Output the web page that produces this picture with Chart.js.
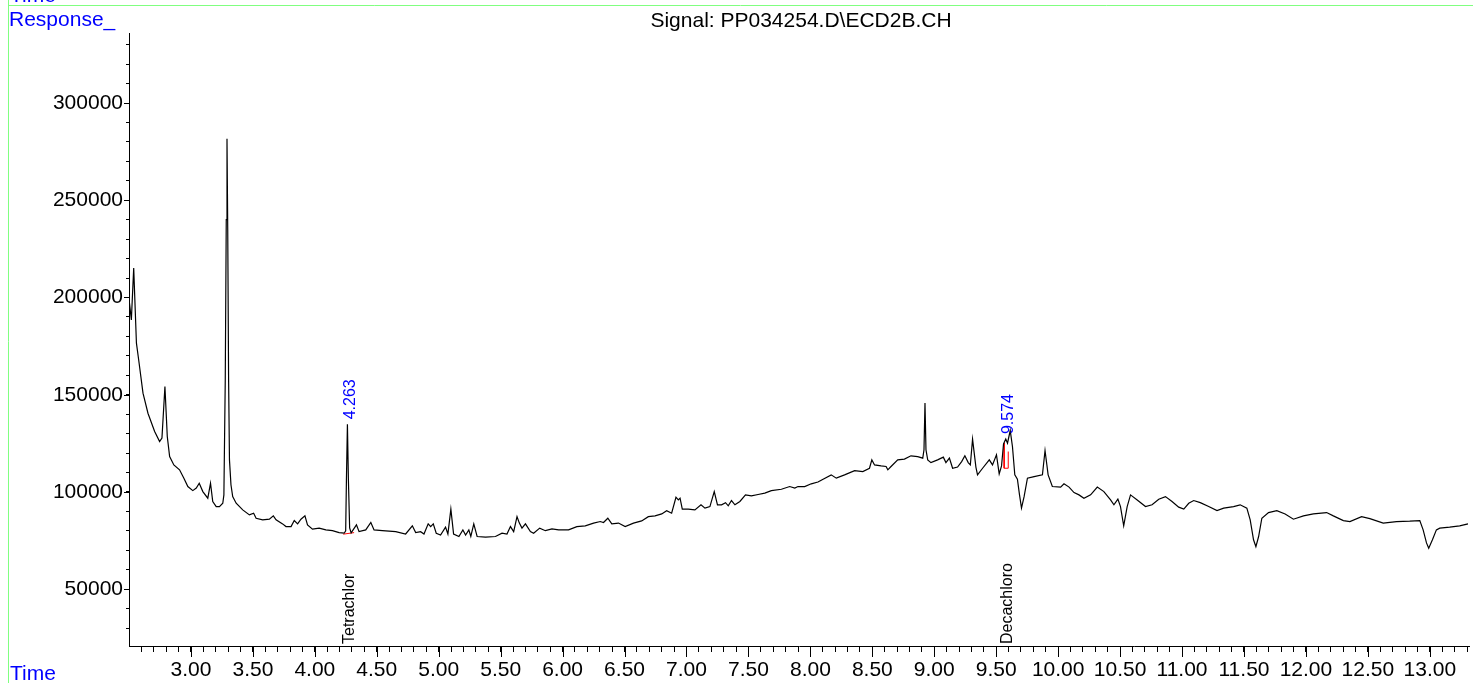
<!DOCTYPE html>
<html><head><meta charset="utf-8">
<script src="https://cdn.jsdelivr.net/npm/chart.js@4.4.1/dist/chart.umd.min.js"></script>
<style>
html,body{margin:0;padding:0;background:#fff;overflow:hidden}
#wrap{position:relative;width:1473px;height:683px}
canvas{position:absolute;left:0;top:0}
</style></head><body>
<div id="wrap"><canvas id="c" width="1473" height="683"></canvas></div>
<script>
// ---- data ----
const times = [
2.498, 2.519, 2.538, 2.560, 2.578, 2.613, 2.653, 2.707, 2.747, 2.766,
2.790, 2.809, 2.828, 2.862, 2.908, 2.943, 2.975, 3.015, 3.043, 3.067,
3.096, 3.136, 3.158, 3.176, 3.204, 3.230, 3.257, 3.266, 3.277, 3.285,
3.291, 3.297, 3.304, 3.311, 3.323, 3.337, 3.365, 3.418, 3.472, 3.506,
3.526, 3.579, 3.633, 3.665, 3.687, 3.740, 3.767, 3.808, 3.834, 3.861,
3.888, 3.920, 3.941, 3.981, 4.035, 4.089, 4.142, 4.196, 4.237, 4.249,
4.255, 4.263, 4.271, 4.281, 4.293, 4.336, 4.357, 4.411, 4.452, 4.478,
4.545, 4.653, 4.733, 4.787, 4.814, 4.854, 4.881, 4.915, 4.935, 4.956,
4.980, 5.015, 5.055, 5.074, 5.098, 5.120, 5.163, 5.195, 5.217, 5.243,
5.259, 5.283, 5.310, 5.378, 5.458, 5.511, 5.551, 5.579, 5.605, 5.632,
5.651, 5.672, 5.700, 5.740, 5.766, 5.815, 5.861, 5.914, 5.968, 6.048,
6.115, 6.183, 6.250, 6.304, 6.330, 6.365, 6.397, 6.451, 6.505, 6.572,
6.638, 6.692, 6.746, 6.800, 6.840, 6.880, 6.915, 6.934, 6.948, 6.966,
7.014, 7.068, 7.117, 7.149, 7.189, 7.224, 7.250, 7.283, 7.315, 7.337,
7.363, 7.391, 7.431, 7.476, 7.524, 7.578, 7.632, 7.685, 7.766, 7.833,
7.874, 7.900, 7.954, 8.007, 8.061, 8.168, 8.209, 8.276, 8.357, 8.423,
8.477, 8.496, 8.518, 8.571, 8.611, 8.625, 8.651, 8.705, 8.759, 8.812,
8.866, 8.907, 8.917, 8.925, 8.933, 8.947, 8.973, 9.027, 9.073, 9.094,
9.122, 9.148, 9.188, 9.221, 9.247, 9.274, 9.291, 9.309, 9.336, 9.349,
9.390, 9.444, 9.470, 9.502, 9.524, 9.543, 9.559, 9.577, 9.591, 9.613,
9.631, 9.650, 9.671, 9.688, 9.704, 9.725, 9.752, 9.806, 9.873, 9.894,
9.919, 9.953, 10.020, 10.047, 10.088, 10.128, 10.168, 10.208, 10.262, 10.316,
10.369, 10.423, 10.450, 10.482, 10.503, 10.529, 10.557, 10.584, 10.638, 10.705,
10.758, 10.812, 10.866, 10.919, 10.973, 11.014, 11.054, 11.094, 11.147, 11.215,
11.282, 11.336, 11.416, 11.469, 11.523, 11.550, 11.577, 11.596, 11.618, 11.644,
11.698, 11.765, 11.832, 11.899, 11.980, 12.060, 12.167, 12.221, 12.302, 12.355,
12.449, 12.516, 12.624, 12.731, 12.838, 12.919, 12.946, 12.973, 12.991, 13.021,
13.053, 13.080, 13.160, 13.241, 13.308
];
const responses = [
200500, 188500, 215100, 176500, 168000, 150800, 140500, 131100, 125900, 127700,
154200, 128500, 118200, 113900, 111400, 107100, 102800, 100700, 102000, 104500,
100200, 96800, 104500, 95100, 92500, 92500, 94200, 98500, 157700, 240000,
281600, 234800, 157700, 116500, 103700, 97600, 94200, 90800, 88200, 89100,
86500, 85700, 86000, 87700, 85700, 83600, 82200, 82200, 85300, 83600,
86000, 87700, 83100, 80900, 81400, 80500, 80100, 79100, 78800, 80000,
106200, 134800, 106200, 81500, 79000, 83100, 79600, 80500, 84300, 80500,
80100, 79600, 78400, 82600, 79100, 79600, 78400, 83600, 82200, 83600,
78800, 77900, 81900, 78400, 91200, 78400, 77100, 80500, 77900, 80500,
77100, 83600, 77100, 76800, 77100, 78800, 78400, 82200, 79600, 87300,
84000, 81400, 83600, 79600, 78800, 81400, 80100, 81000, 80500, 80500,
82200, 82600, 84000, 84800, 84300, 86500, 83600, 84000, 82200, 84000,
85100, 87300, 87700, 88700, 90400, 89100, 97300, 95900, 96800, 91200,
91200, 90800, 93400, 91700, 92500, 100200, 93400, 93400, 94500, 92900,
95600, 93400, 95100, 98500, 98000, 98700, 99400, 100700, 101400, 102800,
102000, 102800, 102800, 104200, 105100, 108800, 107100, 108800, 111000, 110500,
112200, 116500, 113900, 113400, 113100, 111400, 113100, 116500, 116900, 118600,
118200, 117400, 121700, 145700, 121700, 116500, 115100, 116500, 117900, 115100,
117400, 112200, 112800, 115600, 118600, 115100, 113900, 127200, 112800, 108800,
112200, 116500, 113900, 119100, 109300, 113400, 124700, 127200, 125100, 131600,
123400, 108800, 106600, 98500, 91700, 97600, 107100, 107900, 108800, 121300,
108800, 102800, 102500, 104200, 102500, 99700, 98500, 96800, 98500, 102500,
100200, 95900, 93400, 96300, 92500, 82600, 92500, 98500, 95900, 92500,
93400, 96300, 97600, 95100, 92200, 91200, 94200, 95600, 94500, 92500,
90400, 91700, 92500, 93400, 91700, 85700, 75400, 71900, 77100, 86500,
89400, 90400, 88700, 86000, 87700, 88700, 89400, 87700, 85300, 84800,
87300, 86300, 84000, 84800, 85000, 85300, 80500, 73800, 71100, 75400,
80500, 81400, 81900, 82600, 83600
];
// integration baselines (red)
const base1Times = [4.229, 4.317];
const base1Resp  = [78300, 79100];
const base2Times = [9.564, 9.564, 9.597, 9.597];
const base2Resp  = [125100, 112200, 112200, 120800];
// peak annotations
const peakTimes  = [4.263, 9.574];
const peakResp   = [134800, 127200];
const peakLabels = ["4.263", "9.574"];
const compoundNames = ["Tetrachlor", "Decachloro"];
const titleText = "Signal: PP034254.D\\ECD2B.CH";
// axes
const xMin = 2.5, xMax = 13.32, xMinorStep = 0.1, xMajorStep = 0.5;
const yMin = 20800, yMax = 336000, yMinorStep = 10000, yMajorStep = 50000;

const FONT = '"Liberation Sans", Arial, Helvetica, sans-serif';
Chart.defaults.font.family = FONT;

const isMajor = (v, step) => Math.abs(v / step - Math.round(v / step)) < 1e-6;
const isMajorX = v => isMajor(v, xMajorStep) && v > xMin + 1e-6;
const isMajorY = v => isMajor(v, yMajorStep);

function stepTicks(min, max, step) {
  const out = [];
  for (let k = Math.ceil(min / step - 1e-9); k * step <= max + 1e-9; k++) {
    const v = Math.round(k * step * 1000) / 1000;
    if (v > min + 1e-9) out.push({value: v});
  }
  return out;
}

const toXY = (ts, rs) => ts.map((t, i) => ({x: t, y: rs[i]}));

const decor = {
  id: 'decor',
  afterDraw(c) {
    const ctx = c.ctx, x = c.scales.x, y = c.scales.y;
    ctx.save();
    ctx.strokeStyle = '#000'; ctx.lineWidth = 1;
    x.ticks.forEach(t => {
      if (isMajorX(t.value)) {
        const px = Math.round(x.getPixelForValue(t.value)) + 0.5;
        ctx.beginPath(); ctx.moveTo(px, y.bottom); ctx.lineTo(px, y.bottom + 11); ctx.stroke();
      }
    });
    y.ticks.forEach(t => {
      if (isMajorY(t.value)) {
        const py = Math.round(y.getPixelForValue(t.value)) + 0.5;
        ctx.beginPath(); ctx.moveTo(x.left, py); ctx.lineTo(x.left - 5, py); ctx.stroke();
      }
    });
    // retention time labels
    ctx.font = '16px ' + FONT;
    ctx.fillStyle = '#0000ff';
    ctx.textAlign = 'left'; ctx.textBaseline = 'middle';
    peakTimes.forEach((t, i) => {
      const px = x.getPixelForValue(t), py = y.getPixelForValue(peakResp[i]);
      ctx.save(); ctx.translate(px + 3, py - 5); ctx.rotate(-Math.PI / 2);
      ctx.fillText(peakLabels[i], 0, 0); ctx.restore();
    });
    // compound names
    ctx.fillStyle = '#000';
    compoundNames.forEach((n, i) => {
      const px = x.getPixelForValue(peakTimes[i]);
      ctx.save(); ctx.translate(px + 2, y.bottom - 2); ctx.rotate(-Math.PI / 2);
      ctx.fillText(n, 0, 0); ctx.restore();
    });
    // captions
    ctx.font = '21px ' + FONT;
    ctx.textBaseline = 'alphabetic';
    ctx.fillStyle = '#0000ff';
    ctx.textAlign = 'left';
    ctx.fillText('Time', 10, 2);
    ctx.fillText('Response_', 9, 26);
    ctx.fillText('Time', 10, 680);
    ctx.fillStyle = '#000';
    ctx.textAlign = 'center';
    ctx.fillText(titleText, 801, 27);
    // green frame
    ctx.strokeStyle = '#80ff80';
    ctx.beginPath(); ctx.moveTo(8.5, 0); ctx.lineTo(8.5, 683); ctx.stroke();
    ctx.beginPath(); ctx.moveTo(8, 5.5); ctx.lineTo(1473, 5.5); ctx.stroke();
    ctx.restore();
  }
};

new Chart(document.getElementById('c').getContext('2d'), {
  type: 'line',
  data: {
    datasets: [
      {data: toXY(times, responses), borderColor: '#000', borderWidth: 1.2, pointRadius: 0, tension: 0, fill: false},
      {data: toXY(base1Times, base1Resp), borderColor: '#ff0000', borderWidth: 1, pointRadius: 0, tension: 0, fill: false},
      {data: toXY(base2Times, base2Resp), borderColor: '#ff0000', borderWidth: 1, pointRadius: 0, tension: 0, fill: false}
    ]
  },
  options: {
    responsive: false, animation: false, devicePixelRatio: 1,
    layout: {padding: {top: 33, left: 0, right: 0, bottom: 0}},
    plugins: {legend: {display: false}, tooltip: {enabled: false}, title: {display: false}},
    scales: {
      x: {
        type: 'linear', min: xMin, max: xMax,
        border: {display: true, color: '#000', width: 1},
        grid: {drawOnChartArea: false, drawTicks: true, tickLength: 6, color: '#000'},
        afterBuildTicks: s => { s.ticks = stepTicks(xMin, xMax, xMinorStep); },
        ticks: {
          autoSkip: false, maxRotation: 0, minRotation: 0,
          padding: 6, color: '#000', font: {size: 21},
          callback: v => isMajorX(v) ? v.toFixed(2) : ''
        },
        afterFit: s => { s.height = 37; }
      },
      y: {
        type: 'linear', min: yMin, max: yMax,
        border: {display: true, color: '#000', width: 1},
        grid: {drawOnChartArea: false, drawTicks: true, tickLength: 3, color: '#000'},
        afterBuildTicks: s => { s.ticks = stepTicks(yMin, yMax, yMinorStep); },
        ticks: {
          autoSkip: false,
          padding: 3, color: '#000', font: {size: 21},
          callback: v => isMajorY(v) ? String(v) : ''
        },
        afterFit: s => { s.width = 129; }
      }
    }
  },
  plugins: [decor]
});
</script>
</body></html>
